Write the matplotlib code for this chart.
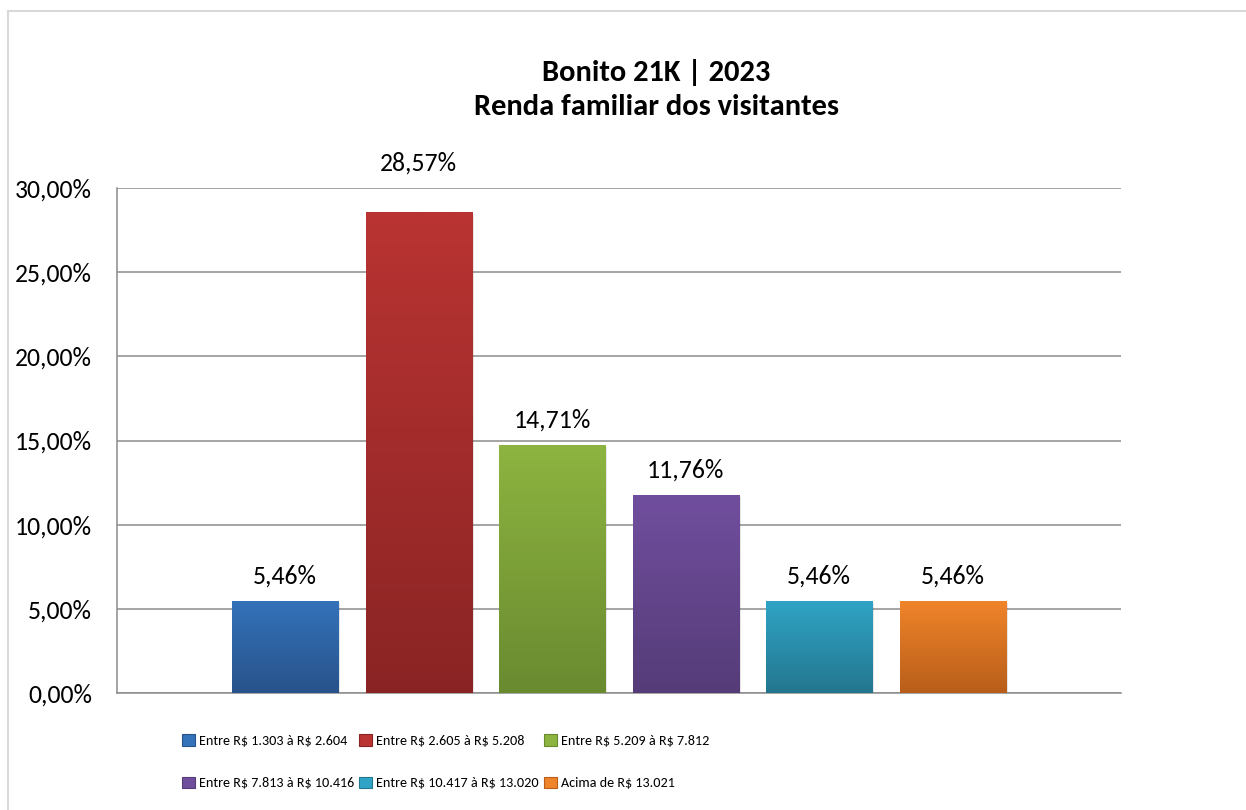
import numpy as np
import matplotlib
matplotlib.use("Agg")
import matplotlib.pyplot as plt
from matplotlib import font_manager
from matplotlib.colors import LinearSegmentedColormap
from matplotlib.patches import Patch, Rectangle
from matplotlib.lines import Line2D
from matplotlib.transforms import ScaledTranslation

categories = ["Entre R\\$ 1.303 à R\\$ 2.604", "Entre R\\$ 2.605 à R\\$ 5.208",
              "Entre R\\$ 5.209 à R\\$ 7.812", "Entre R\\$ 7.813 à R\\$ 10.416",
              "Entre R\\$ 10.417 à R\\$ 13.020", "Acima de R\\$ 13.021"]
values = [5.46, 28.57, 14.71, 11.76, 5.46, 5.46]
value_labels = ["5,46%", "28,57%", "14,71%", "11,76%", "5,46%", "5,46%"]
yticks = [0, 5, 10, 15, 20, 25, 30]
ytick_labels = ["0,00%", "5,00%", "10,00%", "15,00%", "20,00%", "25,00%", "30,00%"]
top_colors = ["#3472BA", "#B93432", "#8DB440", "#704E9E", "#30A4C6", "#F0842A"]
bottom_colors = ["#28528A", "#8A2424", "#6A8A30", "#553C78", "#23768E", "#B85E1A"]

installed = {f.name for f in font_manager.fontManager.ttflist}
def pick(*names):
    for n in names:
        if n in installed:
            return n
    return "DejaVu Sans"

main_font = pick("Carlito", "Calibri", "Lato", "Open Sans")
plt.rcParams["font.family"] = [main_font, "DejaVu Sans"]

W, H = 1246, 810
fig = plt.figure(figsize=(W / 100, H / 100), dpi=100)

# light frame like the Excel chart area
fig.add_artist(Line2D([8 / W, 8 / W], [0, 1 - 11 / H], color="#d9d9d9", lw=1.5))
fig.add_artist(Line2D([8 / W, 1], [1 - 11 / H, 1 - 11 / H], color="#d9d9d9", lw=1.5))

ax = fig.add_axes([117 / W, 1 - 693 / H, (1121 - 117) / W, (693 - 188) / H])
x = np.arange(len(values))
w = 0.795
grad = np.linspace(0, 1, 256).reshape(-1, 1)
shadow = ax.transData + ScaledTranslation(2 / 100, -2 / 100, fig.dpi_scale_trans)
for i, v in enumerate(values):
    ax.add_patch(Rectangle((x[i] - w / 2, 0), w, v, facecolor="black", alpha=0.10,
                           lw=0, transform=shadow, zorder=2.5))
    cmap = LinearSegmentedColormap.from_list("g", [bottom_colors[i], top_colors[i]])
    ax.imshow(grad, extent=(x[i] - w / 2, x[i] + w / 2, 0, v), origin="lower",
              cmap=cmap, aspect="auto", zorder=3, interpolation="bilinear")
    off = 49 if v == max(values) else 25
    ax.annotate(value_labels[i], (x[i], v), xytext=(0, off), textcoords="offset pixels",
                ha="center", va="center", fontsize=18.5, color="black")

ax.set_xlim(-1.26, 6.26)
ax.set_ylim(0, 30)
ax.set_yticks(yticks)
ax.set_yticklabels(ytick_labels)
ax.set_xticks([])
ax.yaxis.grid(True, color="#8c8c8c", lw=1.1)
ax.set_axisbelow(True)
for s in ["top", "right"]:
    ax.spines[s].set_visible(False)
for s in ["left", "bottom"]:
    ax.spines[s].set_color("#8c8c8c")
    ax.spines[s].set_linewidth(1.1)
ax.tick_params(axis="y", length=0, pad=18, labelsize=18.5, labelcolor="black")

fig.text(656 / W, 1 - 73 / H, "Bonito 21K | 2023", ha="center", va="center",
         fontsize=22, fontweight="bold")
fig.text(656 / W, 1 - 107 / H, "Renda familiar dos visitantes", ha="center", va="center",
         fontsize=22, fontweight="bold")

handles = [Patch(facecolor=top_colors[i], edgecolor=bottom_colors[i], lw=0.8)
           for i in range(len(categories))]
order = [0, 3, 1, 4, 2, 5]
fig.legend([handles[i] for i in order], [categories[i] for i in order], ncol=3,
           loc="upper left", bbox_to_anchor=(182 / W, 1 - 734 / H), frameon=False,
           prop=dict(size=10.2), handlelength=0.9, handleheight=0.9,
           handletextpad=0.3, columnspacing=0.35, labelspacing=2.1, borderpad=0,
           borderaxespad=0)

fig.savefig("out.png", dpi=100)
